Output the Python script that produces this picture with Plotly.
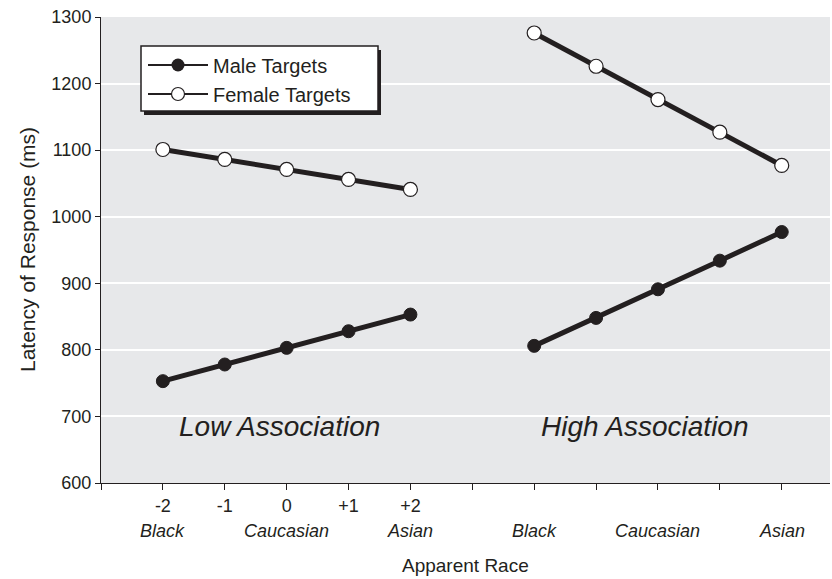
import plotly.graph_objects as go

# Stimulus positions along the apparent-race continuum (two panels on one axis)
positions_low = [1, 2, 3, 4, 5]
positions_high = [7, 8, 9, 10, 11]

# Mean response latencies (ms)
male_low = [753, 778, 803, 828, 853]
female_low = [1101, 1086, 1071, 1056, 1041]
male_high = [806, 848, 891, 934, 977]
female_high = [1276, 1226, 1176, 1127, 1077]

# Axis ticks and labels
tick_positions = list(range(0, 12))
tick_labels = ["", "-2", "-1", "0", "+1", "+2", "", "", "", "", "", ""]
race_positions = [1, 3, 5, 7, 9, 11]
race_labels = ["Black", "Caucasian", "Asian", "Black", "Caucasian", "Asian"]
y_ticks = [600, 700, 800, 900, 1000, 1100, 1200, 1300]

INK = "#231f20"
FONT = "Liberation Sans, Arial, Helvetica, sans-serif"

W, H = 832, 579
ML, MR, MT, MB = 101, 2, 17, 96
PW, PH = W - ML - MR, H - MT - MB


def px_x(px):
    return (px - ML) / PW


def px_y(py):
    return 1 - (py - MT) / PH


fig = go.Figure()

male_marker = dict(symbol="circle", size=13, color=INK, line=dict(color=INK, width=1))
female_marker = dict(symbol="circle", size=14, color="white", line=dict(color=INK, width=1.2))

for xs, ys in [(positions_low, male_low), (positions_high, male_high)]:
    fig.add_trace(go.Scatter(x=xs, y=ys, mode="lines+markers", showlegend=False,
                             line=dict(color=INK, width=5), marker=male_marker))
for xs, ys in [(positions_low, female_low), (positions_high, female_high)]:
    fig.add_trace(go.Scatter(x=xs, y=ys, mode="lines+markers", showlegend=False,
                             line=dict(color=INK, width=5), marker=female_marker))

# Legend entries (thin sample lines)
fig.add_trace(go.Scatter(x=[None], y=[None], mode="lines+markers", name="Male Targets",
                         line=dict(color=INK, width=2),
                         marker=dict(symbol="circle", size=13, color=INK)))
fig.add_trace(go.Scatter(x=[None], y=[None], mode="lines+markers", name="Female Targets",
                         line=dict(color=INK, width=2),
                         marker=dict(symbol="circle", size=13, color="white",
                                     line=dict(color=INK, width=1.2))))

annotations = []
for xv, lab in zip(race_positions, race_labels):
    annotations.append(dict(x=xv, y=px_y(531), xref="x", yref="paper", text=f"<i>{lab}</i>",
                            showarrow=False, xanchor="center", yanchor="middle",
                            font=dict(family=FONT, size=18, color=INK)))
annotations.append(dict(x=0.5, y=px_y(565), xref="paper", yref="paper", text="Apparent Race",
                        showarrow=False, xanchor="center", yanchor="middle",
                        font=dict(family=FONT, size=19, color=INK)))
annotations.append(dict(x=px_x(27), y=px_y(250), xref="paper", yref="paper",
                        text="Latency of Response (ms)", textangle=-90,
                        showarrow=False, xanchor="center", yanchor="middle",
                        font=dict(family=FONT, size=21, color=INK)))
annotations.append(dict(x=2.88, y=px_y(426), xref="x", yref="paper", text="<i>Low Association</i>",
                        showarrow=False, xanchor="center", yanchor="middle",
                        font=dict(family=FONT, size=28, color=INK)))
annotations.append(dict(x=8.79, y=px_y(426), xref="x", yref="paper", text="<i>High Association</i>",
                        showarrow=False, xanchor="center", yanchor="middle",
                        font=dict(family=FONT, size=28, color=INK)))

# Legend frame: drop shadow plus white box with a dark border
shapes = [
    dict(type="rect", xref="paper", yref="paper",
         x0=px_x(144), x1=px_x(381), y0=px_y(115), y1=px_y(50),
         fillcolor=INK, line=dict(width=0), layer="above"),
    dict(type="rect", xref="paper", yref="paper",
         x0=px_x(141), x1=px_x(378), y0=px_y(111), y1=px_y(46),
         fillcolor="white", line=dict(color=INK, width=1.5), layer="above"),
]

fig.update_layout(
    width=W, height=H,
    margin=dict(l=ML, r=MR, t=MT, b=MB),
    paper_bgcolor="white",
    plot_bgcolor="#e7e8ea",
    font=dict(family=FONT, size=18, color=INK),
    showlegend=True,
    legend=dict(x=px_x(143), y=px_y(45.5), xanchor="left", yanchor="top",
                bgcolor="rgba(0,0,0,0)", borderwidth=0,
                itemwidth=60,
                font=dict(family=FONT, size=20, color=INK),
                tracegroupgap=0),
    annotations=annotations,
    shapes=shapes,
    xaxis=dict(range=[0, 11.78], tickmode="array", tickvals=tick_positions, ticktext=tick_labels,
               ticks="outside", ticklen=6, tickwidth=1, tickcolor=INK,
               showline=True, linecolor=INK, linewidth=1,
               showgrid=False, zeroline=False,
               tickfont=dict(family=FONT, size=18, color=INK)),
    yaxis=dict(range=[600, 1300], tickmode="array", tickvals=y_ticks,
               ticks="outside", ticklen=5, tickwidth=1, tickcolor=INK,
               showline=True, linecolor=INK, linewidth=1,
               showgrid=True, gridcolor="white", gridwidth=2, zeroline=False,
               tickfont=dict(family=FONT, size=18, color=INK)),
)

fig.write_html("out.html")
